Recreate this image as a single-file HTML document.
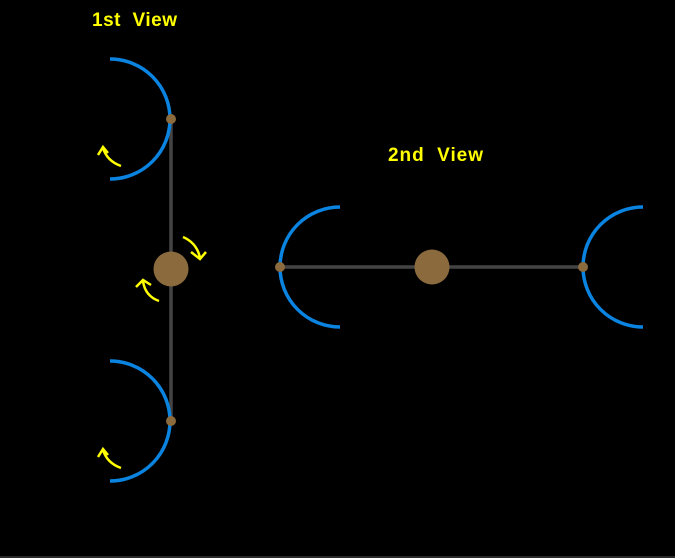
<!DOCTYPE html>
<html><head><style>
html,body{margin:0;padding:0;background:#000;width:675px;height:558px;overflow:hidden}
svg{display:block}
text{font-family:"Liberation Sans",sans-serif;font-weight:bold;fill:#ffff00;font-size:19px}
</style></head><body>
<svg width="675" height="558" viewBox="0 0 675 558">
<rect width="675" height="558" fill="#000"/>
<line x1="0" y1="557" x2="675" y2="557" stroke="#555" stroke-width="1"/>
<text x="92" y="26" textLength="85" lengthAdjust="spacing">1st&#160;&#160;View</text>
<text x="388" y="161" textLength="95" lengthAdjust="spacing">2nd&#160;&#160;View</text>
<g stroke="#444" stroke-width="3.5">
<line x1="171" y1="119" x2="171" y2="421"/>
<line x1="280" y1="267" x2="583" y2="267"/>
</g>
<g fill="none" stroke="#0a84e0" stroke-width="3.5">
<path d="M110 59 A60 60 0 0 1 110 179"/>
<path d="M110 361 A60 60 0 0 1 110 481"/>
<path d="M340 207 A60 60 0 0 0 340 327"/>
<path d="M643 207 A60 60 0 0 0 643 327"/>
</g>
<g fill="#8b6a3e">
<circle cx="171" cy="119" r="5"/>
<circle cx="171" cy="421" r="5"/>
<circle cx="280" cy="267" r="5"/>
<circle cx="583" cy="267" r="5"/>
<circle cx="171" cy="269" r="17.5"/>
<circle cx="432" cy="267" r="17.5"/>
</g>
<g fill="none" stroke="#ffff00" stroke-width="2.5">
<path d="M121 166 Q107 161 103 148"/><path d="M98 155 L103 147 L108 153"/>
<path d="M121 468 Q107 463 103 450"/><path d="M98 457 L103 449 L108 455"/>
<path d="M183 237 Q197 243 200 258"/><path d="M191 252 L200 259 L206 252"/>
<path d="M159 301 Q145 296 143 281"/><path d="M136 287 L143 280 L151 285"/>
</g>
</svg>
</body></html>
